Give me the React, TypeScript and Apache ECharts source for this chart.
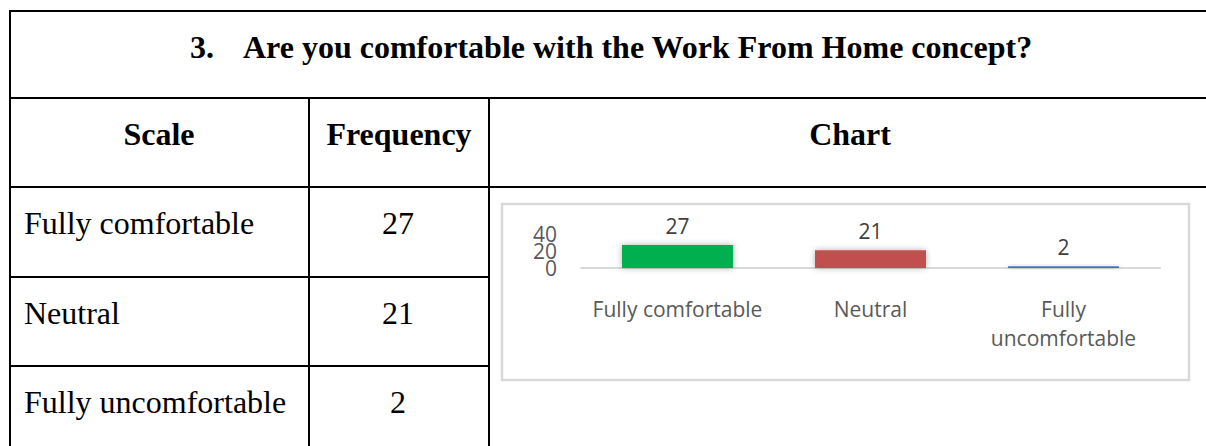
import React, { useEffect, useRef } from "react";
import * as echarts from "echarts";

const titleNumber = "3.";
const titleText = "Are you comfortable with the Work From Home concept?";
const headers = ["Scale", "Frequency", "Chart"];
const categories = ["Fully comfortable", "Neutral", "Fully uncomfortable"];
const frequencies = [27, 21, 2];
const barColors = ["#00B050", "#C0504D", "#4472C4"];
const yTicks = { min: 0, max: 40, interval: 20 };

const serif = '"Liberation Serif", "Times New Roman", serif';
const sans = '"Open Sans", "Noto Sans", sans-serif';

export default function App() {
  const ref = useRef<HTMLDivElement>(null);

  useEffect(() => {
    if (!ref.current) return;
    const chart = echarts.init(ref.current, undefined, { renderer: "svg" });

    const line = (x1: number, y1: number, x2: number, y2: number) => ({
      type: "line",
      shape: { x1, y1, x2, y2 },
      style: { stroke: "#000", lineWidth: 2 },
      silent: true,
    });
    const txt = (
      text: string,
      x: number,
      y: number,
      align: string,
      bold: boolean
    ) => ({
      type: "text",
      x,
      y,
      style: {
        text,
        fill: "#000",
        fontFamily: serif,
        fontSize: 32,
        fontWeight: bold ? "bold" : "normal",
        textAlign: align,
        textVerticalAlign: "middle",
      },
      silent: true,
    });

    const rowTops = [187, 277, 366];
    const graphic: any[] = [
      line(10, 11, 1216, 11),
      line(10, 10, 10, 450),
      line(10, 98, 1216, 98),
      line(10, 187, 1216, 187),
      line(10, 277, 489, 277),
      line(10, 366, 489, 366),
      line(309, 98, 309, 450),
      line(489, 98, 489, 450),
      {
        type: "rect",
        shape: { x: 502, y: 204, width: 687, height: 176 },
        style: { fill: "none", stroke: "#d9d9d9", lineWidth: 2.5 },
        silent: true,
        z: -1,
      },
      txt(titleNumber, 190, 47, "left", true),
      txt(titleText, 243, 47, "left", true),
      txt(headers[0], 159, 134, "center", true),
      txt(headers[1], 399, 134, "center", true),
      txt(headers[2], 850, 134, "center", true),
    ];
    categories.forEach((c, i) => {
      graphic.push(txt(c, 24, rowTops[i] + 36, "left", false));
      graphic.push(txt(String(frequencies[i]), 398, rowTops[i] + 36, "center", false));
    });

    // The tick labels sit closer together than their own height, so they are
    // split over two identical value axes to keep ECharts from hiding any.
    const yAxisFor = (parity: number) => ({
      type: "value",
      position: "left",
      min: yTicks.min,
      max: yTicks.max,
      interval: yTicks.interval,
      axisLine: { show: false },
      axisTick: { show: false },
      splitLine: { show: false },
      axisLabel: {
        margin: 24,
        showMinLabel: true,
        showMaxLabel: true,
        hideOverlap: false,
        fontFamily: sans,
        fontSize: 21,
        color: "#595959",
        formatter: (v: number) =>
          Math.round((v - yTicks.min) / yTicks.interval) % 2 === parity
            ? String(v)
            : "",
      },
    });

    chart.setOption({
      animation: false,
      graphic,
      grid: { left: 581, right: 46, top: 234, bottom: 178, containLabel: false },
      xAxis: {
        type: "category",
        data: categories,
        axisLine: { show: true, lineStyle: { color: "#d9d9d9", width: 2 } },
        axisTick: { show: false },
        axisLabel: {
          interval: 0,
          margin: 26,
          fontFamily: sans,
          fontSize: 21,
          lineHeight: 29,
          color: "#595959",
          formatter: (v: string) => (v.length > 17 ? v.replace(" ", "\n") : v),
        },
      },
      yAxis: [yAxisFor(0), yAxisFor(1)],
      series: [
        {
          type: "bar",
          yAxisIndex: 0,
          barWidth: 111,
          data: frequencies.map((v, i) => ({
            value: v,
            itemStyle: {
              color: barColors[i],
              shadowBlur: 6,
              shadowColor: "rgba(0,0,0,0.3)",
            },
          })),
          label: {
            show: true,
            position: "top",
            distance: 9,
            fontFamily: sans,
            fontSize: 21,
            color: "#404040",
          },
        },
      ],
    });

    return () => chart.dispose();
  }, []);

  return (
    <div
      ref={ref}
      style={{
        position: "fixed",
        left: 0,
        top: 0,
        width: 1206,
        height: 446,
        background: "#fff",
      }}
    />
  );
}
